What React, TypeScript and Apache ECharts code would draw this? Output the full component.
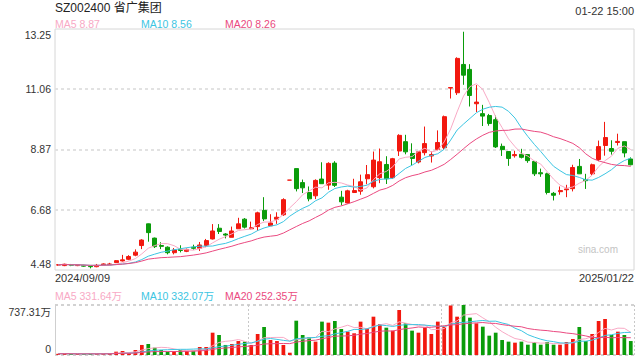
import React, { useEffect, useRef } from 'react';
import * as echarts from 'echarts';

const dates = [
  '2024/09/09','2024/09/10','2024/09/11','2024/09/12','2024/09/13','2024/09/18','2024/09/19','2024/09/20','2024/09/23','2024/09/24',
  '2024/09/25','2024/09/26','2024/09/27','2024/09/30','2024/10/08','2024/10/09','2024/10/10','2024/10/11','2024/10/14','2024/10/15',
  '2024/10/16','2024/10/17','2024/10/18','2024/10/21','2024/10/22','2024/10/23','2024/10/24','2024/10/25','2024/10/28','2024/10/29',
  '2024/10/30','2024/10/31','2024/11/01','2024/11/04','2024/11/05','2024/11/06','2024/11/07','2024/11/08','2024/11/11','2024/11/12',
  '2024/11/13','2024/11/14','2024/11/15','2024/11/18','2024/11/19','2024/11/20','2024/11/21','2024/11/22','2024/11/25','2024/11/26',
  '2024/11/27','2024/11/28','2024/11/29','2024/12/02','2024/12/03','2024/12/04','2024/12/05','2024/12/06','2024/12/09','2024/12/10',
  '2024/12/11','2024/12/12','2024/12/13','2024/12/16','2024/12/17','2024/12/18','2024/12/19','2024/12/20','2024/12/23','2024/12/24',
  '2024/12/25','2024/12/26','2024/12/27','2024/12/30','2024/12/31','2025/01/02','2025/01/03','2025/01/06','2025/01/07','2025/01/08',
  '2025/01/09','2025/01/10','2025/01/13','2025/01/14','2025/01/15','2025/01/16','2025/01/17','2025/01/20','2025/01/21','2025/01/22'
];

const opens = [
  4.66,4.64,4.68,4.64,4.65,4.62,4.60,4.66,4.67,4.75,
  4.81,4.87,5.02,5.37,6.16,5.64,5.37,5.31,5.11,5.23,
  5.16,5.31,5.27,5.37,5.61,6.00,5.79,5.67,5.98,6.33,
  5.98,6.06,6.65,6.09,6.33,6.49,7.75,8.17,7.66,7.30,
  7.18,7.79,7.57,8.37,7.13,6.92,7.30,7.35,7.80,7.51,
  7.84,8.32,7.84,8.81,9.15,8.72,8.41,8.75,8.63,8.87,
  8.93,11.10,10.93,11.96,11.78,10.53,10.17,10.10,9.95,8.98,
  8.79,8.64,8.69,8.68,8.43,8.02,7.98,7.27,7.33,7.40,
  7.44,8.25,7.77,7.98,8.50,9.01,8.90,9.12,9.15,8.52
];
const closes = [
  4.67,4.69,4.65,4.67,4.62,4.60,4.65,4.70,4.70,4.82,
  4.85,4.97,5.13,5.57,5.84,5.33,5.34,5.11,5.21,5.19,
  5.23,5.27,5.39,5.55,5.90,5.88,5.75,5.90,6.16,6.04,
  6.02,6.56,6.34,6.19,6.40,7.04,7.75,7.44,7.47,7.07,
  7.74,7.62,8.36,7.56,6.96,7.36,7.37,7.69,7.95,8.48,
  8.42,7.80,8.53,9.38,8.78,8.54,8.78,9.08,8.68,9.12,
  10.06,11.12,12.18,11.57,10.83,10.59,10.08,9.81,8.96,8.86,
  8.54,8.68,8.58,8.46,7.98,7.98,7.30,7.20,7.37,7.43,
  8.21,7.98,7.73,8.31,8.97,9.30,8.80,9.16,8.74,8.31
];
const lows = [
  4.64,4.62,4.62,4.62,4.60,4.54,4.58,4.64,4.66,4.74,
  4.79,4.84,4.98,5.24,5.51,5.28,5.24,5.05,5.05,5.12,
  5.13,5.22,5.17,5.31,5.59,5.79,5.63,5.67,5.98,5.99,
  5.96,5.91,6.26,6.09,6.16,6.45,7.75,7.34,7.28,6.98,
  7.06,7.62,7.40,7.50,6.83,6.90,7.28,7.22,7.60,7.45,
  7.64,7.61,7.80,8.63,8.69,8.30,8.36,8.65,8.39,8.83,
  8.86,10.72,10.85,11.22,10.43,10.23,9.72,9.73,8.92,8.63,
  8.27,8.57,8.54,8.38,7.90,7.87,7.23,7.01,7.22,7.13,
  7.34,7.98,7.43,7.92,8.44,8.64,8.68,9.01,8.58,8.29
];
const highs = [
  4.69,4.71,4.70,4.69,4.67,4.64,4.70,4.72,4.74,4.84,
  5.03,5.02,5.23,5.60,6.17,5.66,5.49,5.34,5.28,5.38,
  5.26,5.40,5.50,5.61,6.15,6.15,5.82,6.06,6.38,6.37,
  6.24,6.60,7.13,6.51,6.58,7.09,7.75,8.17,7.77,7.52,
  7.78,8.40,8.40,8.44,7.36,7.40,7.80,7.95,8.30,8.79,
  8.90,8.62,8.56,9.42,9.40,9.09,8.78,9.70,8.79,9.56,
  10.10,11.12,12.22,13.15,11.97,11.21,10.49,10.16,10.10,9.08,
  8.80,8.82,8.89,8.70,8.43,8.17,8.02,7.32,7.52,7.58,
  8.31,8.52,7.98,8.35,9.19,9.87,9.20,9.44,9.15,8.58
];
// volume in 万
const volumes = [
  18,22,15,16,14,20,17,19,24,49,
  59,30,74,148,162,108,74,49,59,74,
  59,64,118,118,329,295,148,162,206,197,
  148,310,413,221,206,148,34,506,295,261,
  197,492,477,501,383,344,320,492,393,565,
  457,403,359,664,467,359,329,403,310,492,
  418,730,565,737.31,551,467,418,285,329,221,
  197,182,197,152,192,152,192,152,152,192,
  236,413,206,310,501,531,295,344,295,206
];

const priceMin = 4.48;
const priceMax = 13.25;
const priceLabels = [4.48, 6.68, 8.87, 11.06, 13.25];
const priceGridLines = [6.68, 8.87, 11.06];
const volumeMax = 737.31;
const volumeLabels = [0, 737.31];

const titleText = 'SZ002400 省广集团';
const timeText = '01-22 15:00';
const maLegend = ['MA5 8.87', 'MA10 8.56', 'MA20 8.26'];
const volLegend = ['MA5 331.64万', 'MA10 332.07万', 'MA20 252.35万'];
const watermark = 'sina.com';

const FONT = '"Liberation Sans", Arial, "Noto Sans CJK SC", sans-serif';
const RED = '#f2180f';
const GREEN = '#0a9c0a';
const C5 = '#f8a9c5';
const C10 = '#3cc5e2';
const C20 = '#ea4a80';
const MA_COLORS = [C5, C10, C20];

function movingAverage(arr: number[], n: number): number[] {
  return arr.map((_, i) => {
    const s = Math.max(0, i - n + 1);
    let sum = 0;
    for (let k = s; k <= i; k++) sum += arr[k];
    return +(sum / (i - s + 1)).toFixed(3);
  });
}

function buildOption(): any {
  const candles = dates.map((_, i) => [opens[i], closes[i], lows[i], highs[i]]);
  const volData = volumes.map((v, i) => ({
    value: v,
    itemStyle: { color: closes[i] >= opens[i] ? RED : GREEN },
  }));
  const priceMAs = [5, 10, 20].map((n) => movingAverage(closes, n));
  const volMAs = [5, 10, 20].map((n) => movingAverage(volumes, n));

  const lineSeries = (data: number[], color: string, xi: number) => ({
    type: 'line',
    data,
    xAxisIndex: xi,
    yAxisIndex: xi,
    showSymbol: false,
    symbol: 'none',
    smooth: false,
    lineStyle: { width: 1, color },
    itemStyle: { color },
    silent: true,
    z: 3,
  });

  const legendTexts = (arr: string[], y: number) =>
    arr.map((t, k) => ({
      type: 'text',
      x: [55, 141, 225][k],
      y,
      style: { text: t, fill: MA_COLORS[k], font: `10.5px ${FONT}`, align: 'left', verticalAlign: 'middle', textAlign: 'left', textVerticalAlign: 'middle' },
    }));

  const labelStyle = { fontSize: 10.5, color: '#333', fontFamily: FONT };

  return {
    animation: false,
    backgroundColor: '#fff',
    textStyle: { fontFamily: FONT },
    grid: [
      { left: 55, right: 6, top: 29, height: 241, show: true, borderColor: '#d6d6d6', borderWidth: 1, backgroundColor: 'transparent' },
      { left: 55, right: 6, top: 305, height: 50, show: false },
    ],
    xAxis: [
      {
        type: 'category', gridIndex: 0, data: dates, boundaryGap: true,
        axisLine: { show: false }, axisTick: { show: false }, axisLabel: { show: false }, splitLine: { show: false },
      },
      {
        type: 'category', gridIndex: 1, data: dates, boundaryGap: true,
        axisLine: { show: false }, axisTick: { show: false }, axisLabel: { show: false },
        splitLine: { show: true, interval: 29, lineStyle: { color: '#c8c8c8', width: 1, type: [2, 2] } },
      },
    ],
    yAxis: [
      {
        type: 'value', gridIndex: 0, min: priceMin, max: priceMax, scale: true,
        axisLine: { show: false },
        axisTick: { show: false, customValues: priceGridLines },
        axisLabel: {
          show: true, margin: 4, customValues: priceLabels, ...labelStyle,
          formatter: (v: number) => {
            const s = v.toFixed(2);
            if (Math.abs(v - priceMax) < 1e-6) return `{t|${s}}`;
            if (Math.abs(v - priceMin) < 1e-6) return `{b|${s}}`;
            return s;
          },
          rich: {
            t: { ...labelStyle, padding: [11, 0, 0, 0] },
            b: { ...labelStyle, padding: [0, 0, 13, 0] },
          },
        },
        splitLine: { show: true, lineStyle: { color: '#e2e2e2', width: 2, type: [3, 3] } },
      },
      {
        type: 'value', gridIndex: 1, min: 0, max: volumeMax,
        axisLine: { show: true, lineStyle: { color: '#cfcfcf', width: 1 } },
        axisTick: { show: false, customValues: volumeLabels },
        axisLabel: {
          show: true, margin: 4, customValues: volumeLabels, ...labelStyle,
          formatter: (v: number) => {
            if (Math.abs(v) < 1e-6) return `{b|0}`;
            return `{t|${v.toFixed(2)}万}`;
          },
          rich: {
            t: { ...labelStyle, padding: [13, 0, 0, 0] },
            b: { ...labelStyle, padding: [0, 0, 13, 0] },
          },
        },
        splitLine: { show: true, lineStyle: { color: '#d2d2d2', width: 2, type: [3, 3] } },
      },
    ],
    series: [
      {
        type: 'candlestick',
        xAxisIndex: 0, yAxisIndex: 0,
        data: candles,
        barWidth: '70%',
        itemStyle: {
          color: RED, color0: GREEN, borderColor: RED, borderColor0: GREEN, borderColorDoji: RED, borderWidth: 1,
        },
        z: 2,
      },
      ...priceMAs.map((d, k) => lineSeries(d, MA_COLORS[k], 0)),
      {
        type: 'bar',
        xAxisIndex: 1, yAxisIndex: 1,
        data: volData,
        barWidth: '58%',
        z: 2,
      },
      ...volMAs.map((d, k) => lineSeries(d, MA_COLORS[k], 1)),
    ],
    graphic: [
      { type: 'text', x: 55, y: 8, style: { text: titleText, fill: '#222', font: `12px ${FONT}`, align: 'left', verticalAlign: 'middle', textAlign: 'left', textVerticalAlign: 'middle' } },
      { type: 'text', x: 634, y: 11, style: { text: timeText, fill: '#333', font: `11px ${FONT}`, align: 'right', verticalAlign: 'middle', textAlign: 'right', textVerticalAlign: 'middle' } },
      ...legendTexts(maLegend, 24),
      ...legendTexts(volLegend, 296),
      { type: 'text', x: 55, y: 278, style: { text: dates[0], fill: '#333', font: `11px ${FONT}`, align: 'left', verticalAlign: 'middle', textAlign: 'left', textVerticalAlign: 'middle' } },
      { type: 'text', x: 634, y: 278, style: { text: dates[dates.length - 1], fill: '#333', font: `11px ${FONT}`, align: 'right', verticalAlign: 'middle', textAlign: 'right', textVerticalAlign: 'middle' } },
      { type: 'text', x: 598, y: 249, style: { text: watermark, fill: '#c4c4c4', font: `10px ${FONT}`, align: 'center', verticalAlign: 'middle', textAlign: 'center', textVerticalAlign: 'middle' } },
    ],
  };
}

export default function App() {
  const ref = useRef<HTMLDivElement>(null);
  useEffect(() => {
    if (!ref.current) return;
    const chart = echarts.init(ref.current, null, { renderer: 'svg' });
    chart.setOption(buildOption());
    return () => chart.dispose();
  }, []);
  return (
    <div
      ref={ref}
      style={{ position: 'fixed', left: 0, top: 0, width: 640, height: 360, background: '#fff' }}
    />
  );
}
